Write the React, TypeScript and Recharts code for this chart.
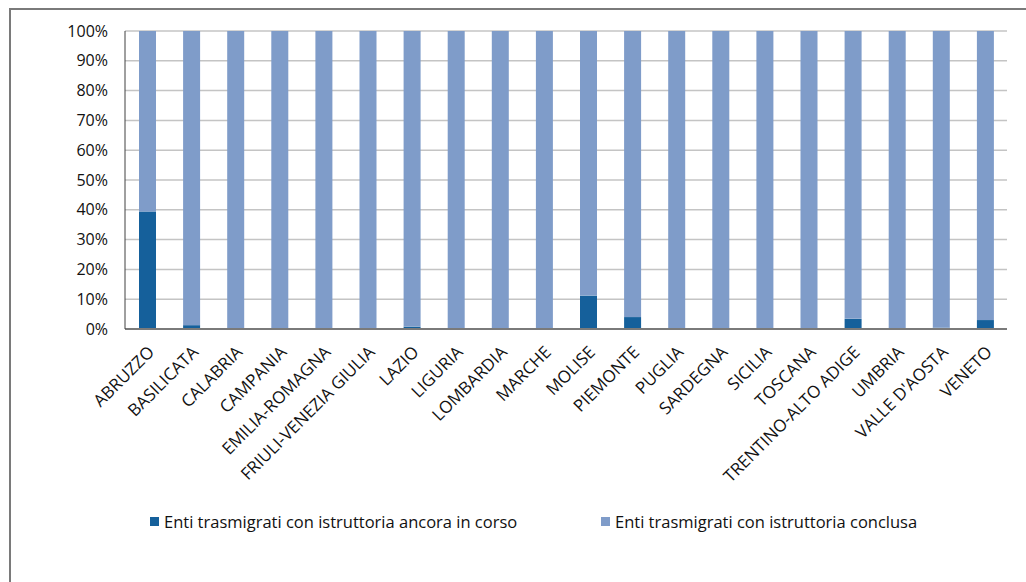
import React from "react";
import { BarChart, Bar, XAxis, YAxis, CartesianGrid, Legend } from "recharts";

const regions = [
  "ABRUZZO", "BASILICATA", "CALABRIA", "CAMPANIA", "EMILIA-ROMAGNA",
  "FRIULI-VENEZIA GIULIA", "LAZIO", "LIGURIA", "LOMBARDIA", "MARCHE",
  "MOLISE", "PIEMONTE", "PUGLIA", "SARDEGNA", "SICILIA", "TOSCANA",
  "TRENTINO-ALTO ADIGE", "UMBRIA", "VALLE D'AOSTA", "VENETO",
];
const inCorso = [39.4, 1.3, 0, 0, 0, 0, 0.8, 0, 0, 0, 11.2, 4.0, 0, 0, 0, 0, 3.4, 0, 0.4, 3.0];
const conclusa = [60.6, 98.7, 100, 100, 100, 100, 99.2, 100, 100, 100, 88.8, 96.0, 100, 100, 100, 100, 96.6, 100, 99.6, 97.0];
const yTicks = [0, 10, 20, 30, 40, 50, 60, 70, 80, 90, 100];
const seriesNames = [
  "Enti trasmigrati con istruttoria ancora in corso",
  "Enti trasmigrati con istruttoria conclusa",
];

const DARK = "#15609b";
const LIGHT = "#7f9cc9";
const FONT = "'Open Sans', sans-serif";

const data = regions.map((r, i) => ({ name: r, a: inCorso[i], b: conclusa[i] }));

const XTick = (props: any) => {
  const { x, y, payload } = props;
  return (
    <g transform={`translate(${x + 4},${y + 12})`}>
      <text
        x={0}
        y={0}
        dy="0.35em"
        textAnchor="end"
        transform="rotate(-45)"
        fill="#111"
        fontSize={17}
        fontFamily={FONT}
      >
        {payload.value}
      </text>
    </g>
  );
};

const LegendContent = () => {
  const items = [
    { color: DARK, label: seriesNames[0], left: 150 },
    { color: LIGHT, label: seriesNames[1], left: 601 },
  ];
  return (
    <div style={{ position: "relative", height: 24, width: 1026 }}>
      {items.map((it) => (
        <div
          key={it.label}
          style={{
            position: "absolute",
            left: it.left,
            top: 0,
            display: "flex",
            alignItems: "center",
            height: 24,
            whiteSpace: "nowrap",
          }}
        >
          <span style={{ display: "inline-block", width: 9, height: 9, background: it.color, marginRight: 5 }} />
          <span style={{ fontFamily: FONT, fontSize: 16.5, color: "#111" }}>{it.label}</span>
        </div>
      ))}
    </div>
  );
};

export default function App() {
  return (
    <div style={{ position: "absolute", left: 0, top: 0, width: 1026, height: 582, background: "#fff", overflow: "hidden" }}>
      <div
        style={{
          position: "absolute",
          left: 9,
          top: 8,
          width: 1030,
          height: 600,
          borderTop: "2px solid #7a7a7a",
          borderLeft: "2px solid #7a7a7a",
        }}
      />
      <div style={{ position: "absolute", left: 0, top: 0 }}>
        <BarChart
          width={1026}
          height={582}
          data={data}
          margin={{ top: 31, right: 19, bottom: 153, left: 65 }}
        >
          <CartesianGrid horizontal vertical={false} stroke="#c4c4c4" strokeWidth={1.5} />
          <XAxis
            dataKey="name"
            interval={0}
            height={100}
            tick={<XTick />}
            tickLine={false}
            axisLine={{ stroke: "#7a7a7a", strokeWidth: 2 }}
          />
          <YAxis
            width={60}
            domain={[0, 100]}
            ticks={yTicks}
            tickFormatter={(v: number) => `${v}%`}
            tickLine={false}
            tickSize={0}
            tickMargin={17}
            axisLine={{ stroke: "#404040", strokeWidth: 1 }}
            tick={{ fill: "#111", fontSize: 16, fontFamily: FONT }}
            interval={0}
          />
          <Legend
            layout="horizontal"
            verticalAlign="middle"
            align="center"
            wrapperStyle={{ top: 509, left: 0, width: 1026 }}
            content={<LegendContent />}
          />
          <Bar dataKey="a" name={seriesNames[0]} stackId="s" fill={DARK} barSize={17} isAnimationActive={false} />
          <Bar dataKey="b" name={seriesNames[1]} stackId="s" fill={LIGHT} barSize={17} isAnimationActive={false} />
        </BarChart>
      </div>
    </div>
  );
}
